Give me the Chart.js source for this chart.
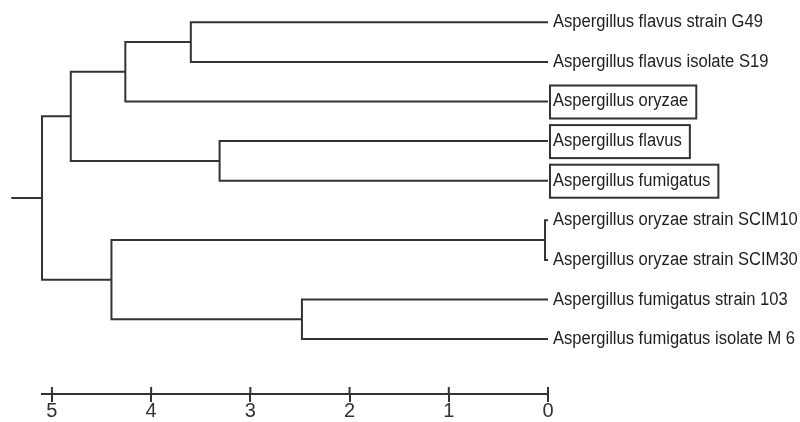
<!DOCTYPE html>
<html><head><meta charset="utf-8">
<script src="https://cdn.jsdelivr.net/npm/chart.js@4"></script>
<style>html,body{margin:0;padding:0;background:#fff}canvas{display:block}</style>
</head><body>
<canvas id="c" width="800" height="422"></canvas>
<script>
// Leaves (top to bottom)
const leafLabels = [
  "Aspergillus flavus strain G49",
  "Aspergillus flavus isolate S19",
  "Aspergillus oryzae",
  "Aspergillus flavus",
  "Aspergillus fumigatus",
  "Aspergillus oryzae strain SCIM10",
  "Aspergillus oryzae strain SCIM30",
  "Aspergillus fumigatus strain 103",
  "Aspergillus fumigatus isolate M 6"
];
const boxedLeaves = [false, false, true, true, true, false, false, false, false];
// Linkage: node ids 0-8 are leaves, 9+ are merges in this order
const mergeLeft   = [0, 9, 3, 10, 5, 7, 13, 12];
const mergeRight  = [1, 2, 4, 11, 6, 8, 14, 15];
const mergeHeight = [3.60, 4.26, 3.31, 4.81, 0.03, 2.48, 4.40, 5.10];
const rootStubEnd = 5.41;
const tickValues = [5, 4, 3, 2, 1, 0];

const LINE = '#333333';
const nodeH = leafLabels.map(() => 0);
const nodeP = leafLabels.map((_, i) => i);
const datasets = [];
for (let k = 0; k < mergeHeight.length; k++) {
  const l = mergeLeft[k], r = mergeRight[k], H = mergeHeight[k];
  nodeH.push(H);
  nodeP.push((nodeP[l] + nodeP[r]) / 2);
  datasets.push({
    data: [
      {x: nodeH[l], y: nodeP[l]}, {x: H, y: nodeP[l]},
      {x: H, y: nodeP[r]}, {x: nodeH[r], y: nodeP[r]}
    ]
  });
}
const rootId = nodeH.length - 1;
datasets.push({ data: [{x: nodeH[rootId], y: nodeP[rootId]}, {x: rootStubEnd, y: nodeP[rootId]}] });
datasets.forEach(d => Object.assign(d, {
  showLine: true, borderColor: LINE, borderWidth: 2, pointRadius: 0,
  clip: false, tension: 0, borderCapStyle: 'butt', borderJoinStyle: 'miter', fill: false
}));

const FONT = '18px "Liberation Sans", Arial, sans-serif';
const SX = 0.92;

const leafPlugin = {
  id: 'leafLabels',
  afterDatasetsDraw(chart) {
    const ctx = chart.ctx, xs = chart.scales.x, ys = chart.scales.y;
    const x0 = xs.getPixelForValue(0);
    ctx.save();
    ctx.font = FONT;
    ctx.fillStyle = '#1e1e1e';
    ctx.textBaseline = 'alphabetic';
    ctx.textAlign = 'left';
    leafLabels.forEach((t, i) => {
      const y = ys.getPixelForValue(i);
      const tx = x0 + 5;
      const w = ctx.measureText(t).width * SX;
      ctx.save();
      ctx.translate(tx, y + 5);
      ctx.scale(SX, 1);
      ctx.fillText(t, 0, 0);
      ctx.restore();
      if (boxedLeaves[i]) {
        ctx.strokeStyle = LINE;
        ctx.lineWidth = 2;
        ctx.strokeRect(x0 + 2, y - 16, (tx + w + 8) - (x0 + 2), 33);
      }
    });
    // upward half of axis tick marks
    ctx.strokeStyle = LINE;
    ctx.lineWidth = 2;
    const yb = chart.chartArea.bottom;
    tickValues.forEach(v => {
      const px = xs.getPixelForValue(v);
      ctx.beginPath();
      ctx.moveTo(px, yb - 7);
      ctx.lineTo(px, yb);
      ctx.stroke();
    });
    ctx.restore();
  }
};

new Chart(document.getElementById('c'), {
  type: 'scatter',
  data: { datasets },
  options: {
    responsive: false,
    devicePixelRatio: 1,
    animation: false,
    events: [],
    layout: { padding: { left: 42, right: 252, top: 0, bottom: 0 } },
    plugins: { legend: { display: false }, tooltip: { enabled: false } },
    scales: {
      x: {
        type: 'linear', reverse: true, min: 0, max: 5.10,
        afterBuildTicks(s) { s.ticks = tickValues.map(v => ({ value: v })); },
        afterFit(s) { s.height = 28; },
        grid: { drawOnChartArea: false, drawTicks: true, tickLength: 8, color: LINE, lineWidth: 2 },
        border: { display: true, color: LINE, width: 2 },
        ticks: {
          padding: -1, color: '#333', autoSkip: false, maxRotation: 0,
          font: { family: '"Liberation Sans Narrow", "Liberation Sans", sans-serif', size: 20, lineHeight: 1 },
          callback: v => String(v)
        }
      },
      y: {
        type: 'linear', reverse: true, min: -0.563, max: 9.386, display: false
      }
    }
  },
  plugins: [leafPlugin]
});
</script>
</body></html>
